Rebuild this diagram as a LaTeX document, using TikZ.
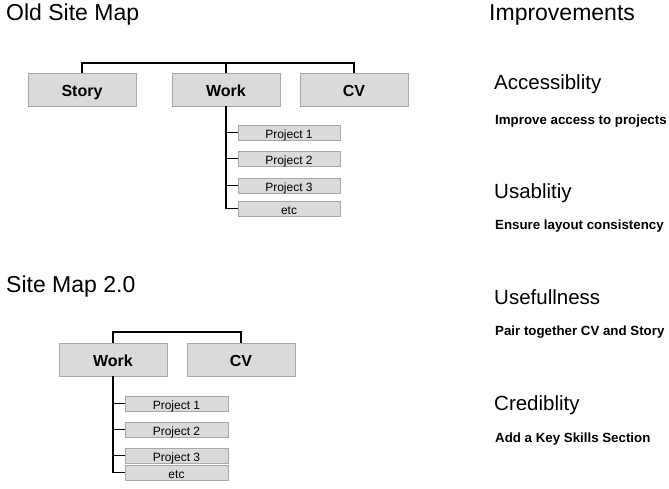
\documentclass[tikz,border=0pt]{standalone}
\usepackage{fontspec}
\setmainfont{Liberation Sans}
\definecolor{boxfill}{HTML}{DADADA}
\definecolor{boxline}{HTML}{A8A8A8}
\begin{document}
\begin{tikzpicture}[x=1pt,y=-1pt,
  bigbox/.style={draw=boxline,fill=boxfill,line width=0.8pt,minimum width=108pt,minimum height=33pt,inner sep=0pt,text height=14.4pt,text depth=0pt,font=\fontsize{16}{16}\selectfont\bfseries},
  projbox/.style={draw=boxline,fill=boxfill,line width=0.8pt,minimum width=102pt,minimum height=15pt,inner sep=0pt,text height=11.6pt,text depth=0pt,font=\fontsize{12}{12}\selectfont},
  conn/.style={line width=1.6pt,black},
  title/.style={anchor=base west,inner sep=0pt,font=\fontsize{23}{23}\selectfont},
  head/.style={anchor=base west,inner sep=0pt,font=\fontsize{20.5}{20.5}\selectfont},
  desc/.style={anchor=base west,inner sep=0pt,font=\fontsize{13.3}{13.3}\selectfont\bfseries}]
\useasboundingbox (0,0) rectangle (669,488);
% Old site map
\node[title] (t1) at (6,20.5) {Old Site Map};
\node[bigbox] (story) at (82,89.5) {Story};
\node[bigbox] (work) at (226,89.5) {Work};
\node[bigbox] (cv) at (354,89.5) {CV};
\node[projbox] (p1) at (289,132.5) {Project 1};
\node[projbox] (p2) at (289,158.5) {Project 2};
\node[projbox] (p3) at (289,185.5) {Project 3};
\node[projbox] (pe) at (289,208.5) {etc};
\coordinate (bar) at (0,63);
\draw[conn] (story.north) |- (bar -| cv.north) -- (cv.north);
\draw[conn] (work.north) -- (bar -| work.north);
\draw[conn] (work.south) |- (pe.west);
\foreach \p in {p1,p2,p3} \draw[conn] (\p.west) -- (\p.west -| work.south);
% Site map 2.0
\node[title] (t2) at (6,292) {Site Map 2.0};
\node[bigbox] (work2) at (113,359.5) {Work};
\node[bigbox] (cv2) at (241,359.5) {CV};
\node[projbox,minimum width=103pt] (q1) at (176.5,403.5) {Project 1};
\node[projbox,minimum width=103pt] (q2) at (176.5,429.5) {Project 2};
\node[projbox,minimum width=103pt] (q3) at (176.5,455.5) {Project 3};
\node[projbox,minimum width=103pt] (qe) at (176.5,472.5) {etc};
\coordinate (bar2) at (0,332);
\draw[conn] (work2.north) |- (bar2 -| cv2.north) -- (cv2.north);
\draw[conn] (work2.south) |- (qe.west);
\foreach \p in {q1,q2,q3} \draw[conn] (\p.west) -- (\p.west -| work2.south);
% Improvements
\node[title] (imp) at (489,20.5) {Improvements};
\node[head] (h1) at (494,89) {Accessiblity};
\node[desc] (d1) at (495,124) {Improve access to projects};
\node[head] (h2) at (494,198) {Usablitiy};
\node[desc] (d2) at (495,229) {Ensure layout consistency};
\node[head] (h3) at (494,304) {Usefullness};
\node[desc] (d3) at (495,335) {Pair together CV and Story};
\node[head] (h4) at (494,410) {Crediblity};
\node[desc] (d4) at (495,442) {Add a Key Skills Section};
\end{tikzpicture}
\end{document}
